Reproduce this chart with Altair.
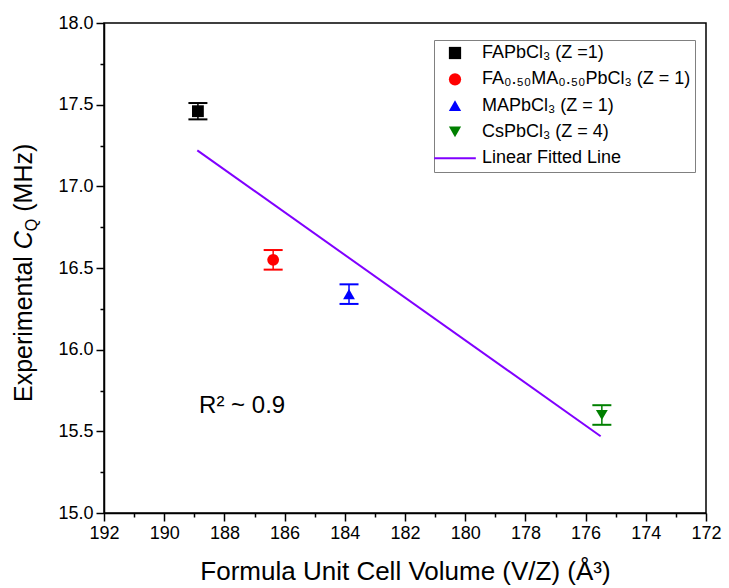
import altair as alt
import pandas as pd

# ---------------- data ----------------
series = ["FAPbCl₃ (Z =1)", "FA₀.₅₀MA₀.₅₀PbCl₃ (Z = 1)", "MAPbCl₃ (Z = 1)", "CsPbCl₃ (Z = 4)"]
fit_name = "Linear Fitted Line"
volume = [188.88, 186.38, 183.86, 175.46]
cq = [17.46, 16.55, 16.34, 15.60]
cq_err = [0.05, 0.06, 0.06, 0.06]
point_colors = ["#000000", "#FF0000", "#0000FF", "#008000"]
point_shapes = ["square", "circle", "triangle-up", "triangle-down"]
fit_color = "#8000FF"
fit_x = [188.9, 175.5]
fit_y = [17.22, 15.47]
x_ticks = [172, 173, 174, 175, 176, 177, 178, 179, 180, 181, 182, 183, 184,
           185, 186, 187, 188, 189, 190, 191, 192]
y_ticks = [15.0, 15.25, 15.5, 15.75, 16.0, 16.25, 16.5, 16.75, 17.0, 17.25,
           17.5, 17.75, 18.0]
annotation_text = ["R² ~ 0.9"]
annotation_x = [188.84]
annotation_y = [15.61]

FONT = "Liberation Sans"
W, H = 602, 490
# long thin bar used as the legend symbol of the fitted line
LINE_SYMBOL = "M-3.4,-0.17L3.4,-0.17L3.4,0.17L-3.4,0.17Z"

df = pd.DataFrame({"series": series, "vol": volume, "cq": cq, "err": cq_err,
                   "hex": point_colors})
df["lo"] = df["cq"] - df["err"]
df["hi"] = df["cq"] + df["err"]
fit_df = pd.DataFrame({"vol": fit_x, "cq": fit_y})
ann_df = pd.DataFrame({"vol": annotation_x, "cq": annotation_y, "t": annotation_text})
dummy = pd.DataFrame({"a": [0]})

domain_all = series + [fit_name]
color_scale = alt.Scale(domain=domain_all, range=point_colors + [fit_color])
shape_scale = alt.Scale(domain=domain_all, range=point_shapes + [LINE_SYMBOL])

x_scale = alt.Scale(domain=[172, 192], reverse=True, nice=False, zero=False)
y_scale = alt.Scale(domain=[15, 18], nice=False, zero=False)

x_axis = alt.Axis(
    values=x_ticks,
    labelExpr="datum.value % 2 === 0 ? datum.label : ''",
    tickSize={"condition": {"test": "datum.value % 2 === 0", "value": 8}, "value": 4},
    title="Formula Unit Cell Volume (V/Z) (Å³)",
    grid=False, labelFontSize=18, titleFontSize=26, titleFontWeight="normal",
    labelPadding=3, titlePadding=16, labelOverlap=False, labelFlush=False,
    labelFont=FONT, titleFont=FONT, labelColor="black", titleColor="black",
    domainColor="black", tickColor="black", domainWidth=1.5, tickWidth=1.5,
)
y_axis = alt.Axis(
    values=y_ticks, format=".1f",
    labelExpr="round(datum.value * 4) % 2 === 0 ? datum.label : ''",
    tickSize={"condition": {"test": "round(datum.value * 4) % 2 === 0", "value": 8}, "value": 4},
    title=None, grid=False, labelFontSize=18, labelPadding=3,
    labelOverlap=False, labelFlush=False, labelFont=FONT, labelColor="black",
    domainColor="black", tickColor="black", domainWidth=1.5, tickWidth=1.5,
)

legend = alt.Legend(
    title=None, orient="none", legendX=330, legendY=17,
    fillColor="white", padding=4, symbolOffset=8,
    labelFont=FONT, labelFontSize=18, labelColor="black", symbolSize=150,
    rowPadding=8.3, labelOffset=18, symbolOpacity=1, labelLimit=400,
    symbolStrokeWidth=0,
)

X = alt.X("vol:Q", scale=x_scale, axis=x_axis)
Y = alt.Y("cq:Q", scale=y_scale, axis=y_axis)

points = alt.Chart(df).mark_point(filled=True, size=140, opacity=1).encode(
    x=X, y=Y,
    color=alt.Color("series:N", scale=color_scale, legend=legend),
    shape=alt.Shape("series:N", scale=shape_scale, legend=legend),
)

fit_line = alt.Chart(fit_df).mark_line(strokeWidth=2, color=fit_color).encode(x=X, y=Y)

err_rule = alt.Chart(df).mark_rule(strokeWidth=1.5).encode(
    x=X, y=alt.Y("lo:Q", scale=y_scale, axis=y_axis), y2="hi:Q",
    color=alt.Color("hex:N", scale=None),
)
cap_lo = alt.Chart(df).mark_tick(orient="horizontal", size=19, thickness=2, opacity=1).encode(
    x=X, y=alt.Y("lo:Q", scale=y_scale, axis=y_axis), color=alt.Color("hex:N", scale=None)
)
cap_hi = alt.Chart(df).mark_tick(orient="horizontal", size=19, thickness=2, opacity=1).encode(
    x=X, y=alt.Y("hi:Q", scale=y_scale, axis=y_axis), color=alt.Color("hex:N", scale=None)
)

r2 = alt.Chart(ann_df).mark_text(
    align="left", baseline="alphabetic", fontSize=24, font=FONT, color="black"
).encode(x=X, y=Y, text="t:N")

# y-axis title built from text pieces (italic C with subscript Q)
seg_font = 25
sub_font = 16
x_base = -72
y_start = 379
w_exp = 6.113 * seg_font
w_c = 0.722 * seg_font
w_q = 0.778 * sub_font
ytitle_common = dict(angle=270, align="left", baseline="alphabetic", font=FONT, color="black")
t1 = alt.Chart(dummy).mark_text(fontSize=seg_font, **ytitle_common).encode(
    x=alt.value(x_base), y=alt.value(y_start), text=alt.value("Experimental"))
t2 = alt.Chart(dummy).mark_text(fontSize=seg_font, fontStyle="italic", **ytitle_common).encode(
    x=alt.value(x_base), y=alt.value(y_start - w_exp), text=alt.value("C"))
t3 = alt.Chart(dummy).mark_text(fontSize=sub_font, **ytitle_common).encode(
    x=alt.value(x_base + 5), y=alt.value(y_start - w_exp - w_c), text=alt.value("Q"))
t4 = alt.Chart(dummy).mark_text(fontSize=seg_font, **ytitle_common).encode(
    x=alt.value(x_base), y=alt.value(y_start - w_exp - w_c - w_q - 0.278 * seg_font),
    text=alt.value("(MHz)"))

chart = alt.layer(points, fit_line, err_rule, cap_lo, cap_hi, r2, t1, t2, t3, t4).properties(
    width=W, height=H,
    autosize=alt.AutoSizeParams(type="none"),
    padding={"left": 104, "top": 23, "right": 23, "bottom": 75},
    background="white",
).configure_view(
    stroke="black", strokeWidth=1.5
).configure_legend(
    strokeColor="#808080", strokeWidth=1
)

chart.save("out.html", embed_options={"renderer": "svg", "actions": False})
